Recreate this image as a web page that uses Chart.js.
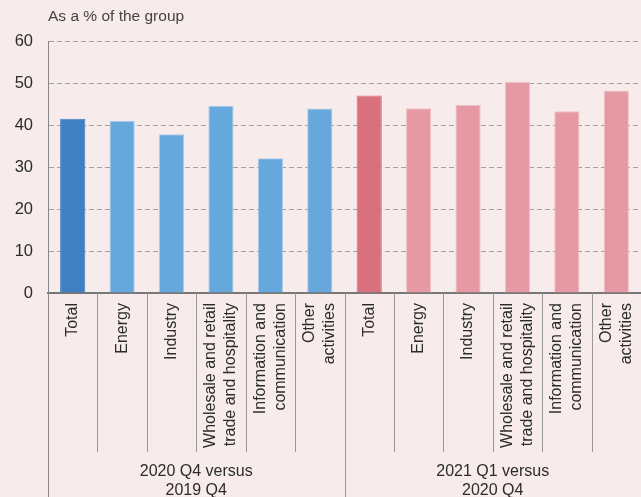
<!DOCTYPE html>
<html>
<head>
<meta charset="utf-8">
<script src="https://cdn.jsdelivr.net/npm/chart.js@4/dist/chart.umd.min.js"></script>
<style>
  html,body{margin:0;padding:0;background:#f7ebec;}
  #wrap{width:641px;height:497px;position:relative;}
</style>
</head>
<body>
<div id="wrap"><canvas id="chart"></canvas></div>
<script>
// categories (multi-line labels), repeated for both comparison periods
const sectors = [
  ['Total'], ['Energy'], ['Industry'],
  ['Wholesale and retail', 'trade and hospitality'],
  ['Information and', 'communication'],
  ['Other', 'activities']
];
const periods = [['2020 Q4 versus', '2019 Q4'], ['2021 Q1 versus', '2020 Q4']];
const q4Values = [41.5, 41.0, 37.8, 44.6, 32.1, 43.9];
const q1Values = [47.0, 44.0, 44.8, 50.3, 43.3, 48.2];
const yTicks = [0, 10, 20, 30, 40, 50, 60];

const labels = sectors.concat(sectors);
const pad = Array(sectors.length).fill(null);

const font = 'Liberation Sans, Arial, sans-serif';
const textColor = '#2b2b2b';

// draws the rotated category labels, dividers, group labels and the title
const decorations = {
  id: 'decorations',
  afterDraw(chart){
    const {ctx, chartArea} = chart;
    const x = chart.scales.x;
    const axisY = chartArea.bottom;
    const n = labels.length;
    ctx.save();

    ctx.fillStyle = textColor;
    ctx.font = '16px ' + font;
    ctx.textAlign = 'right';
    ctx.textBaseline = 'middle';
    labels.forEach((lines, i)=>{
      const px = x.getPixelForValue(i);
      lines.forEach((line, j)=>{
        const off = (j - (lines.length-1)/2) * 20;
        ctx.save();
        ctx.translate(px + off, axisY + 10);
        ctx.rotate(-Math.PI/2);
        ctx.fillText(line, 0, 0);
        ctx.restore();
      });
    });

    ctx.strokeStyle = '#999';
    ctx.lineWidth = 1;
    for(let i=0;i<n-1;i++){
      const bx = Math.round((x.getPixelForValue(i) + x.getPixelForValue(i+1))/2) + 0.5;
      const groupEdge = (i+1) % sectors.length === 0;
      ctx.beginPath();
      ctx.moveTo(bx, axisY);
      ctx.lineTo(bx, groupEdge ? 497 : 452);
      ctx.stroke();
    }
    ctx.strokeStyle = '#888';
    ctx.beginPath();
    ctx.moveTo(chartArea.left + 0.5, axisY);
    ctx.lineTo(chartArea.left + 0.5, 497);
    ctx.stroke();

    ctx.textAlign = 'center';
    ctx.font = '16px ' + font;
    periods.forEach((lines, g)=>{
      const first = x.getPixelForValue(g*sectors.length);
      const last = x.getPixelForValue((g+1)*sectors.length - 1);
      const cx = (first + last)/2;
      lines.forEach((line, j)=> ctx.fillText(line, cx, 472 + j*19));
    });

    ctx.textAlign = 'left';
    ctx.fillStyle = '#444';
    ctx.font = '15.5px ' + font;
    ctx.fillText('As a % of the group', chartArea.left, 17);
    ctx.restore();
  }
};

new Chart(document.getElementById('chart'), {
  type: 'bar',
  data: {
    labels: labels.map(l => l.join(' ')),
    datasets: [
      {
        label: periods[0].join(' '),
        data: q4Values.concat(pad),
        backgroundColor: q4Values.map((v,i)=> i===0 ? '#4080c2' : '#66a8db'),
        borderColor: q4Values.map((v,i)=> i===0 ? '#4080c2' : '#a9cceb'),
        borderWidth: 1,
        grouped: false
      },
      {
        label: periods[1].join(' '),
        data: pad.concat(q1Values),
        backgroundColor: pad.concat(q1Values.map((v,i)=> i===0 ? '#d9707d' : '#e699a3')),
        borderColor: pad.concat(q1Values.map((v,i)=> i===0 ? '#d9707d' : '#f0c3c9')),
        borderWidth: 1,
        grouped: false
      }
    ]
  },
  options: {
    responsive: true,
    maintainAspectRatio: false,
    animation: false,
    layout: { padding: { top: 41, right: 0, left: 0, bottom: 0 } },
    plugins: { legend: { display: false }, tooltip: { enabled: false } },
    datasets: { bar: { categoryPercentage: 1, barPercentage: 0.51 } },
    scales: {
      x: {
        offset: true,
        grid: { display: false },
        border: { display: true, color: '#777', width: 2 },
        ticks: { display: false },
        afterFit(scale){ scale.height = 204; }
      },
      y: {
        min: 0, max: 60,
        afterBuildTicks(scale){ scale.ticks = yTicks.map(v => ({value: v})); },
        grid: { color: '#a3a0a0', lineWidth: 1, drawTicks: false },
        border: { display: true, color: '#888', width: 1, dash: [5, 3] },
        ticks: { color: textColor, font: { family: font, size: 16.5 }, padding: 15 },
        afterFit(scale){ scale.width = 48; }
      }
    }
  },
  plugins: [decorations]
});
</script>
</body>
</html>
